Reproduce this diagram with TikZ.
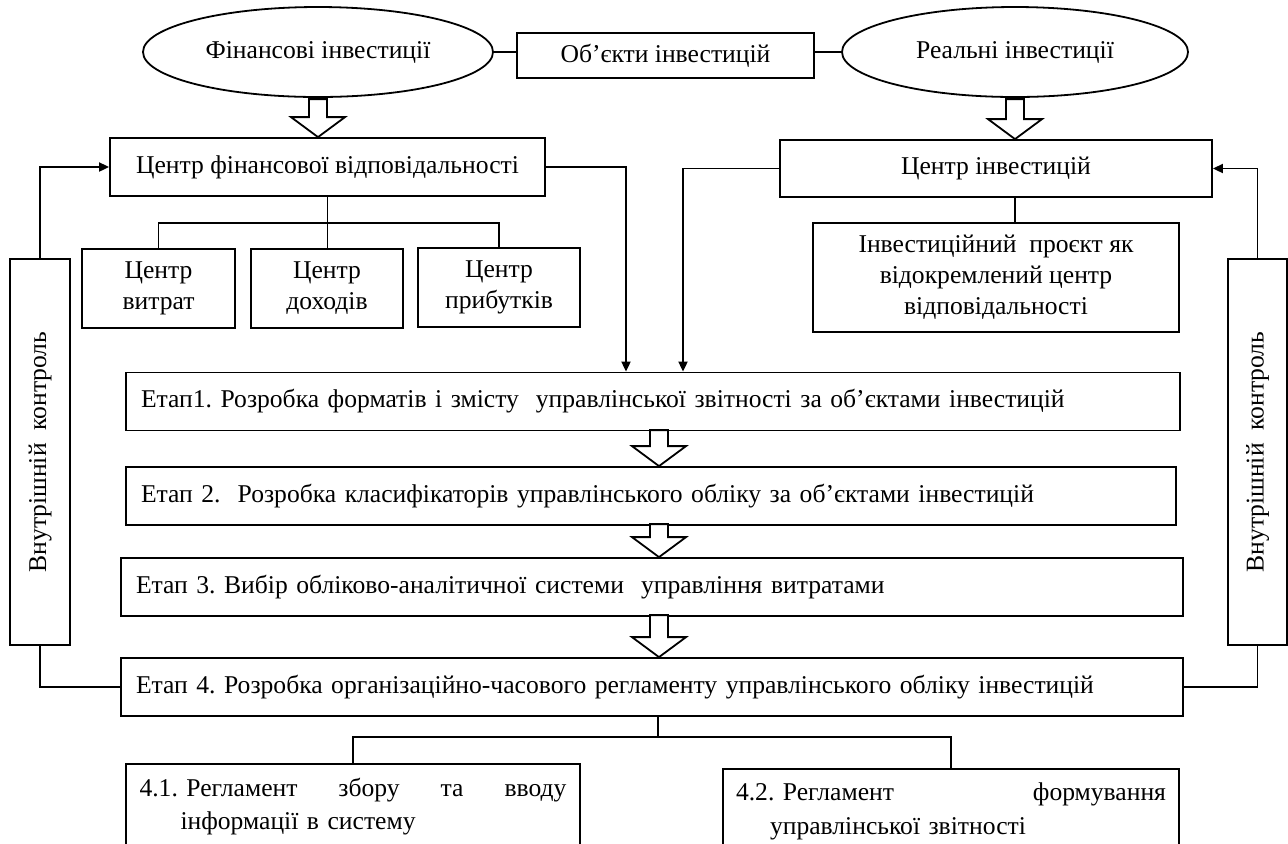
\documentclass[tikz,border=0pt]{standalone}
\usepackage{fontspec}
\setmainfont{Liberation Serif}
\usepackage{graphicx}
\usetikzlibrary{arrows.meta, shapes.geometric}
\frenchspacing

\newcommand{\fatarrow}[2]{%
    \draw[fat, shift={(#1)}] (-9,-#2) -- (-9,-20) -- (-27,-20) -- (0,0)
        -- (27,-20) -- (9,-20) -- (9,-#2) -- cycle;}

\begin{document}
\begin{tikzpicture}[
        x=0.5pt, y=-0.5pt,
        line width=0.9pt,
        >={Triangle[length=5pt,width=4.5pt]},
        every node/.style={font=\fontsize{12.8}{15.5}\selectfont},
        box/.style={draw, rectangle, inner sep=0pt, align=center},
        oval/.style={draw, ellipse, inner sep=0pt},
        stage/.style={draw, rectangle, align=left, inner xsep=7.5pt, inner ysep=0pt, minimum height=29pt},
        reg/.style={draw, rectangle, anchor=north, align=left, inner xsep=6.75pt, inner ysep=7pt, font=\fontsize{12.8}{16.8}\selectfont},
        fat/.style={draw, fill=white}
    ]
    \useasboundingbox (0,0) rectangle (1288,843);
    \clip (0,0) rectangle (1288,843);

    \node [oval, minimum width=175pt, minimum height=45pt] (fin) at (318,52) {Фінансові інвестиції};
    \node [box, minimum width=148.5pt, minimum height=22.5pt] (obj) at (665.5,55.5) {Об’єкти інвестицій};
    \node [oval, minimum width=173pt, minimum height=45pt] (real) at (1015,52) {Реальні інвестиції};

    \node [box, minimum width=217.5pt, minimum height=29pt] (cfv) at (327.5,167) {Центр фінансової відповідальності};
    \node [box, minimum width=216pt, minimum height=28.5pt] (ci) at (996,168.5) {Центр інвестицій};

    \node [box, minimum width=76.5pt, minimum height=39.5pt] (b1) at (158.5,288.5) {Центр\\витрат};
    \node [box, minimum width=76pt, minimum height=39.5pt] (b2) at (327,288.5) {Центр\\доходів};
    \node [box, minimum width=81pt, minimum height=39.5pt] (b3) at (499,287.5) {Центр\\прибутків};
    \node [box, minimum width=183pt, minimum height=54.5pt] (inv) at (996,277.5) {Інвестиційний\ \ проєкт як\\відокремлений центр\\відповідальності};

    \node [box, minimum width=30pt, minimum height=193pt] (ctlL) at (40,452) {\rotatebox{90}{Внутрішній\ \ контроль}};
    \node [box, minimum width=29.5pt, minimum height=193pt] (ctlR) at (1257.5,452) {\rotatebox{90}{Внутрішній\ \ контроль}};

    \node [stage, text width=512pt] (e1) at (653,401.5) {Етап1. Розробка форматів і змісту\ \ управлінської звітності за об’єктами інвестицій};
    \node [stage, text width=510pt] (e2) at (651,496) {Етап 2.\ \ Розробка класифікаторів управлінського обліку за об’єктами інвестицій};
    \node [stage, text width=516pt] (e3) at (652,587) {Етап 3. Вибір обліково-аналітичної системи\ \ управління витратами};
    \node [stage, text width=516pt] (e4) at (652,687) {Етап 4. Розробка організаційно-часового регламенту управлінського обліку інвестицій};

    \node [reg, text width=213.5pt] (r1) at (353,763) {4.1. Регламент\hfill збору\hfill та\hfill вводу\\\hspace*{20.5pt}інформації в систему\rule[-40pt]{0pt}{40pt}};
    \node [reg, text width=215pt, inner xsep=6.5pt] (r2) at (951,768) {4.2. Регламент\hfill формування\\\hspace*{17pt}управлінської звітності\rule[-40pt]{0pt}{40pt}};

    \coordinate (barF) at (0,223);
    \coordinate (dropF) at (626,0);
    \coordinate (dropI) at (683,0);
    \coordinate (ax) at (659,0);
    \coordinate (barR) at (658,737);

    \draw (fin.east) -- (fin.east -| obj.west);
    \draw (real.west -| obj.east) -- (real.west);

    \fatarrow{cfv.north -| fin.south}{38}
    \fatarrow{ci.north -| real.south}{40}

    \draw (cfv.south) -- (cfv.south |- b2.north);
    \draw (b1.north) |- (barF -| b2.north) -| (b3.north);
    \draw (ci.south -| real.south) -- (inv.north -| real.south);

    \draw [->] (cfv.east) -| (dropF |- e1.north);
    \draw [->] (ci.west) -| (dropI |- e1.north);

    \draw [->] (ctlL.north) |- (cfv.west);
    \draw (ctlL.south) |- (e4.west);
    \draw [->] (ctlR.north) |- (ci.east);
    \draw (ctlR.south) |- (e4.east);

    \fatarrow{e2.north -| ax}{36}
    \fatarrow{e3.north -| ax}{33}
    \fatarrow{e4.north -| ax}{42}

    \draw (e4.south -| barR) -- (barR);
    \draw (r1.north) |- (barR) -| (r2.north);
\end{tikzpicture}
\end{document}
